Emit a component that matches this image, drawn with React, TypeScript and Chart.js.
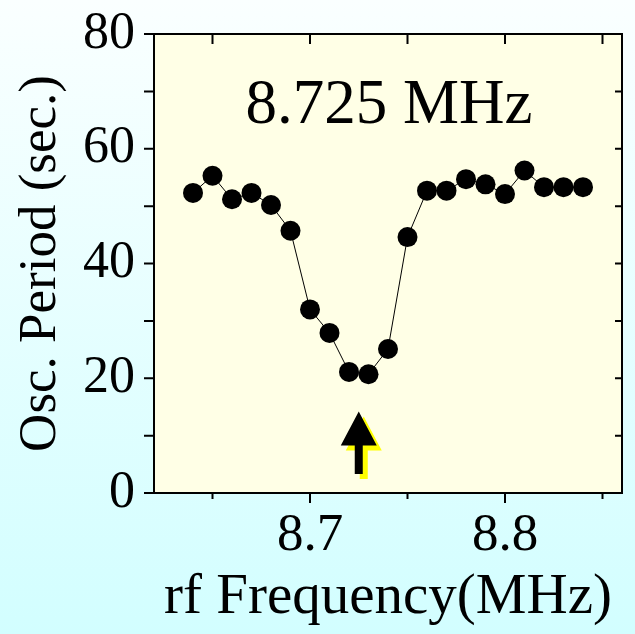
import React, { useEffect, useRef } from 'react';
import { Chart, registerables } from 'chart.js';

Chart.register(...registerables);

const frequencies = [8.64, 8.65, 8.66, 8.67, 8.68, 8.69, 8.70, 8.71, 8.72, 8.73, 8.74, 8.75, 8.76, 8.77, 8.78, 8.79, 8.80, 8.81, 8.82, 8.83, 8.84];
const periods = [52.3, 55.3, 51.2, 52.3, 50.2, 45.7, 32.0, 27.9, 21.1, 20.7, 25.1, 44.6, 52.7, 52.7, 54.7, 53.8, 52.1, 56.2, 53.3, 53.3, 53.3];

const xMajorTicks = [8.7, 8.8];
const xMinorTicks = [8.65, 8.75, 8.85];
const yMajorTicks = [0, 20, 40, 60, 80];
const yMinorTicks = [10, 30, 50, 70];

const xMin = 8.62;
const xMax = 8.86;
const yMin = 0;
const yMax = 80;

const resonanceText = '8.725 MHz';
const resonanceFreq = 8.725;
const textX = 8.7405;
const textY = 64.5;
const arrowTipValue = 14.2;
const arrowTailValue = 3.3;

const xTitle = 'rf Frequency(MHz)';
const yTitle = 'Osc. Period (sec.)';

const FAMILY = "'Liberation Serif', 'Times New Roman', serif";

const decorPlugin = {
  id: 'decor',
  beforeDraw(chart: any) {
    const { ctx, width, height, chartArea: a } = chart;
    ctx.save();
    const g = ctx.createLinearGradient(0, 0, 0, height);
    g.addColorStop(0, '#FAFFFF');
    g.addColorStop(1, '#D2FEFF');
    ctx.fillStyle = g;
    ctx.fillRect(0, 0, width, height);
    ctx.fillStyle = '#FFFFE6';
    ctx.fillRect(a.left, a.top, a.right - a.left, a.bottom - a.top);
    ctx.restore();
  },
  afterDatasetsDraw(chart: any) {
    const { ctx } = chart;
    const xs = chart.scales.x;
    const ys = chart.scales.y;
    const cx = xs.getPixelForValue(resonanceFreq);
    const tip = ys.getPixelForValue(arrowTipValue);
    const tail = ys.getPixelForValue(arrowTailValue);
    const headLen = 34;
    const headHalf = 18;
    const shaftHalf = 4;
    const path = (dx: number, dy: number) => {
      ctx.beginPath();
      ctx.moveTo(cx + dx, tip + dy);
      ctx.lineTo(cx + headHalf + dx, tip + headLen + dy);
      ctx.lineTo(cx + shaftHalf + dx, tip + headLen + dy);
      ctx.lineTo(cx + shaftHalf + dx, tail + dy);
      ctx.lineTo(cx - shaftHalf + dx, tail + dy);
      ctx.lineTo(cx - shaftHalf + dx, tip + headLen + dy);
      ctx.lineTo(cx - headHalf + dx, tip + headLen + dy);
      ctx.closePath();
    };
    ctx.save();
    path(5, 5);
    ctx.fillStyle = '#FFFF00';
    ctx.fill();
    path(0, 0);
    ctx.fillStyle = '#000000';
    ctx.fill();

    ctx.font = `63px ${FAMILY}`;
    ctx.textAlign = 'center';
    ctx.textBaseline = 'alphabetic';
    ctx.fillStyle = '#000000';
    ctx.fillText(resonanceText, xs.getPixelForValue(textX), ys.getPixelForValue(textY));
    ctx.restore();
  },
  afterDraw(chart: any) {
    const { ctx, chartArea: a } = chart;
    const xs = chart.scales.x;
    const ys = chart.scales.y;
    ctx.save();
    ctx.strokeStyle = '#000';
    ctx.lineWidth = 2;
    ctx.strokeRect(a.left, a.top, a.right - a.left, a.bottom - a.top);
    ctx.beginPath();
    [...yMajorTicks, ...yMinorTicks].forEach((v) => {
      const y = ys.getPixelForValue(v);
      ctx.moveTo(a.left - 10, y);
      ctx.lineTo(a.left, y);
    });
    [...yMajorTicks, ...yMinorTicks].forEach((v) => {
      const y = ys.getPixelForValue(v);
      ctx.moveTo(a.right - 7, y);
      ctx.lineTo(a.right, y);
    });
    xMajorTicks.forEach((v) => {
      const x = xs.getPixelForValue(v);
      ctx.moveTo(x, a.bottom);
      ctx.lineTo(x, a.bottom + 10);
    });
    xMinorTicks.forEach((v) => {
      const x = xs.getPixelForValue(v);
      ctx.moveTo(x, a.bottom);
      ctx.lineTo(x, a.bottom + 6);
    });
    [...xMajorTicks, ...xMinorTicks].forEach((v) => {
      const x = xs.getPixelForValue(v);
      ctx.moveTo(x, a.top);
      ctx.lineTo(x, a.top + 10);
    });
    ctx.stroke();
    ctx.restore();
  },
};

export default function App() {
  const canvasRef = useRef<HTMLCanvasElement | null>(null);

  useEffect(() => {
    const canvas = canvasRef.current;
    if (!canvas) return;
    const chart = new Chart(canvas, {
      type: 'scatter',
      data: {
        datasets: [
          {
            data: frequencies.map((f, i) => ({ x: f, y: periods[i] })),
            showLine: true,
            borderColor: '#000',
            borderWidth: 1,
            pointRadius: 10,
            pointBackgroundColor: '#000',
            pointBorderWidth: 0,
            pointHoverRadius: 10,
          },
        ],
      },
      options: {
        animation: false,
        responsive: false,
        devicePixelRatio: 1,
        layout: { padding: { left: 0, top: 34, right: 13, bottom: 0 } },
        plugins: {
          legend: { display: false },
          tooltip: { enabled: false },
        },
        events: [],
        scales: {
          x: {
            type: 'linear',
            min: xMin,
            max: xMax,
            afterBuildTicks: (s: any) => {
              s.ticks = xMajorTicks.map((v) => ({ value: v }));
            },
            afterFit: (s: any) => {
              s.height = 141;
              s.paddingLeft = 0;
              s.paddingRight = 0;
            },
            grid: { display: false, drawTicks: false },
            border: { display: false },
            ticks: {
              padding: 11,
              maxRotation: 0,
              autoSkip: false,
              color: '#000',
              font: { family: FAMILY, size: 53 },
              callback: (v: any) => Number(v).toFixed(1),
            },
            title: {
              display: true,
              text: xTitle,
              color: '#000',
              font: { family: FAMILY, size: 57 },
              padding: { top: 0, bottom: 2 },
            },
          },
          y: {
            min: yMin,
            max: yMax,
            afterBuildTicks: (s: any) => {
              s.ticks = yMajorTicks.map((v) => ({ value: v }));
            },
            afterFit: (s: any) => {
              s.width = 154;
              s.paddingTop = 0;
              s.paddingBottom = 0;
            },
            grid: { display: false, drawTicks: false },
            border: { display: false },
            ticks: {
              padding: 19,
              color: '#000',
              font: { family: FAMILY, size: 52 },
              callback: (v: any) => String(v),
            },
            title: {
              display: true,
              text: yTitle,
              color: '#000',
              font: { family: FAMILY, size: 53 },
              padding: { top: 9, bottom: 0 },
            },
          },
        },
      },
      plugins: [decorPlugin],
    } as any);
    return () => chart.destroy();
  }, []);

  return (
    <div style={{ position: 'absolute', left: 0, top: 0, width: 635, height: 634 }}>
      <canvas ref={canvasRef} width={635} height={634} style={{ display: 'block', width: 635, height: 634 }} />
    </div>
  );
}
